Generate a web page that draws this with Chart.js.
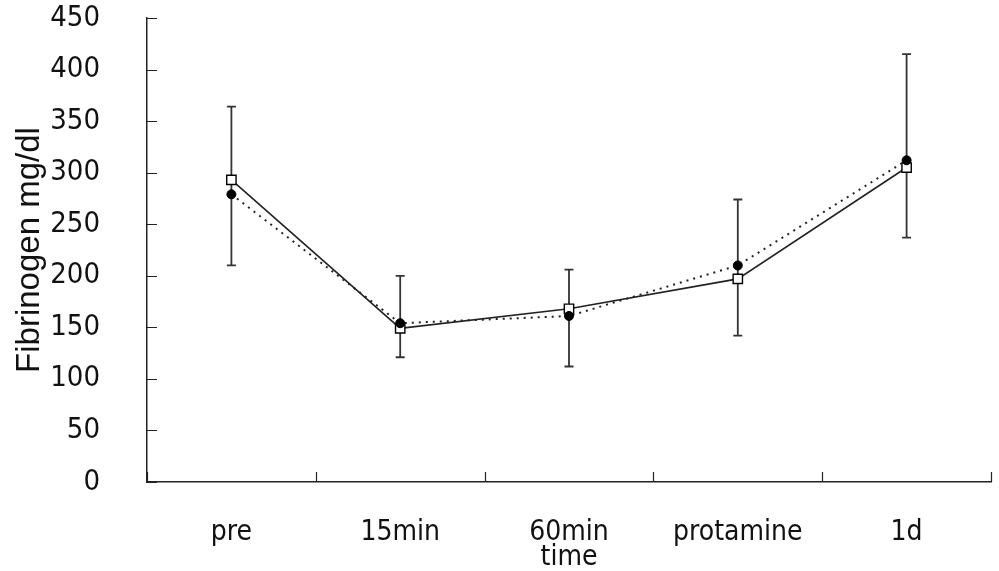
<!DOCTYPE html>
<html>
<head>
<meta charset="utf-8">
<script src="https://cdn.jsdelivr.net/npm/chart.js@4.4.1/dist/chart.umd.min.js"></script>
<style>
  html, body { margin: 0; padding: 0; background: #fff; }
  #wrap { width: 999px; height: 571px; position: relative; }
</style>
</head>
<body>
<div id="wrap"><canvas id="chart"></canvas></div>
<script>
(function () {
  "use strict";

  const categories = ["pre", "15min", "60min", "protamine", "1d"];
  const squareSeries = [293, 149, 168, 197, 305];
  const circleSeries = [279, 154, 161, 210, 312];
  const errHigh = [364, 200, 206, 274, 415];
  const errLow = [210, 121, 112, 142, 237];
  const yTicks = [0, 50, 100, 150, 200, 250, 300, 350, 400, 450];

  const INK = "#222";
  const NARROW = "'Liberation Sans Narrow', 'DejaVu Sans Condensed', 'Liberation Sans', sans-serif";

  // error bars behind the markers, inward tick marks on both axes
  const extras = {
    id: "extras",
    beforeDatasetsDraw(chart) {
      const ctx = chart.ctx;
      const x = chart.scales.x;
      const y = chart.scales.y;
      ctx.save();
      ctx.strokeStyle = "#333";
      ctx.lineWidth = 1.8;
      categories.forEach((c, i) => {
        const px = x.getPixelForValue(i);
        const top = y.getPixelForValue(errHigh[i]);
        const bot = y.getPixelForValue(errLow[i]);
        ctx.beginPath();
        ctx.moveTo(px, top);
        ctx.lineTo(px, bot);
        ctx.moveTo(px - 4.5, top);
        ctx.lineTo(px + 4.5, top);
        ctx.moveTo(px - 4.5, bot);
        ctx.lineTo(px + 4.5, bot);
        ctx.stroke();
      });
      ctx.restore();
    },
    afterDraw(chart) {
      const ctx = chart.ctx;
      const area = chart.chartArea;
      const x = chart.scales.x;
      const y = chart.scales.y;
      const step = x.getPixelForTick(1) - x.getPixelForTick(0);
      ctx.save();
      ctx.strokeStyle = INK;
      ctx.lineWidth = 1.2;
      ctx.beginPath();
      yTicks.forEach((v) => {
        const py = Math.round(y.getPixelForValue(v)) + 0.5;
        ctx.moveTo(area.left, py);
        ctx.lineTo(area.left + 10, py);
      });
      for (let i = 0; i <= categories.length; i++) {
        const px = Math.round(x.getPixelForTick(0) - step / 2 + i * step) + 0.5;
        ctx.moveTo(px, area.bottom);
        ctx.lineTo(px, area.bottom - 10);
      }
      ctx.stroke();
      ctx.restore();
    }
  };

  new Chart(document.getElementById("chart"), {
    type: "line",
    data: {
      labels: categories,
      datasets: [
        {
          label: "circle",
          data: circleSeries,
          borderColor: INK,
          borderWidth: 2,
          borderDash: [2, 5],
          pointStyle: "circle",
          pointRadius: 4.5,
          pointBackgroundColor: "#000",
          pointBorderColor: "#000",
          pointBorderWidth: 1,
          tension: 0
        },
        {
          label: "square",
          data: squareSeries,
          borderColor: INK,
          borderWidth: 1.6,
          pointStyle: "rect",
          pointRadius: 6.6,
          pointBackgroundColor: "#fff",
          pointBorderColor: "#000",
          pointBorderWidth: 1.4,
          tension: 0
        }
      ]
    },
    options: {
      responsive: true,
      maintainAspectRatio: false,
      animation: false,
      layout: { padding: { top: 18, right: 4, left: 0, bottom: 0 } },
      plugins: {
        legend: { display: false },
        tooltip: { enabled: false }
      },
      scales: {
        x: {
          type: "category",
          offset: true,
          grid: { display: false, offset: true },
          border: { display: true, color: INK, width: 1.5 },
          ticks: { color: "#111", font: { family: NARROW, size: 28 }, padding: 26, maxRotation: 0 },
          title: {
            display: true,
            text: "time",
            color: "#111",
            font: { family: NARROW, size: 28 },
            padding: { top: -10, bottom: -4 }
          },
          afterFit(scale) {
            scale.height = 89;
            scale.paddingLeft = 0;
            scale.paddingRight = 0;
          }
        },
        y: {
          min: 0,
          max: 450,
          afterBuildTicks(scale) { scale.ticks = yTicks.map((v) => ({ value: v })); },
          grid: { display: false },
          border: { display: true, color: INK, width: 1.5 },
          ticks: { color: "#111", font: { family: NARROW, size: 29 }, padding: 39 },
          title: {
            display: true,
            text: "Fibrinogen mg/dl",
            color: "#111",
            font: { family: "'Liberation Sans', Arial, sans-serif", size: 33 },
            padding: { top: 10, bottom: 0 }
          },
          afterFit(scale) {
            scale.width = 147;
            scale.paddingTop = 0;
            scale.paddingBottom = 0;
          }
        }
      }
    },
    plugins: [extras]
  });
})();
</script>
</body>
</html>
